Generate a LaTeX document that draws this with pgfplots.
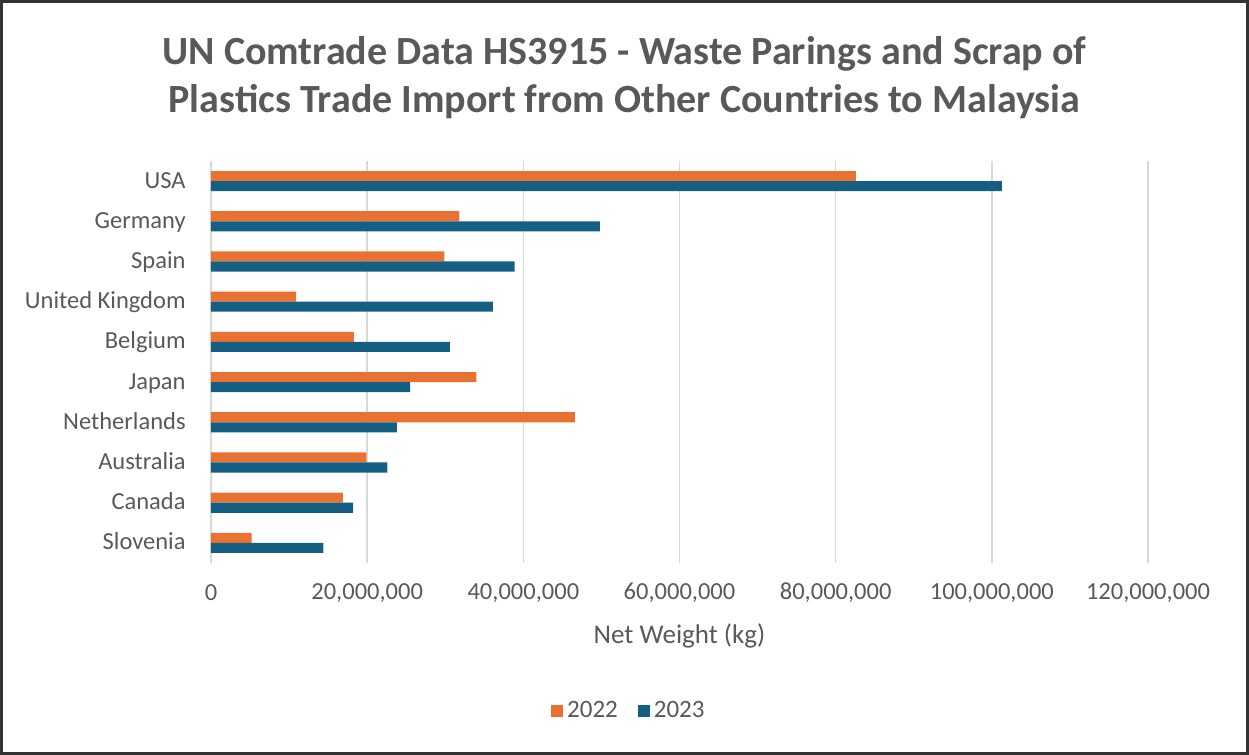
\documentclass[border=0pt]{standalone}
\usepackage{pgfplots}
\pgfplotsset{compat=1.18}
\usepackage{fontspec}
\setmainfont{Carlito}
\definecolor{c22}{HTML}{E97132}
\definecolor{c23}{HTML}{156082}
\definecolor{txt}{HTML}{595959}
\definecolor{gridc}{HTML}{D9D9D9}

\begin{document}
\begin{tikzpicture}[x=0.5pt,y=0.5pt]
\useasboundingbox (0,0) rectangle (1249,755);
\draw[line width=1.5pt, black!80] (1.5,1.5) rectangle (1247.5,753.5);

\node[txt, font=\bfseries\fontsize{20}{24}\selectfont, align=center]
  at (624.5,677) {UN Comtrade Data HS3915 - Waste Parings and Scrap of\\Plastics Trade Import from Other Countries to Malaysia};

\begin{axis}[
  at={(105.5pt,96pt)}, anchor=south west,
  scale only axis, width=468.5pt, height=201pt,
  xbar, bar width=0.25,
  y dir=reverse,
  xmin=0, xmax=120000000,
  ymin=-0.5, ymax=9.5,
  xtick={0,20000000,40000000,60000000,80000000,100000000,120000000},
  scaled x ticks=false,
  xticklabel={\pgfmathprintnumber[fixed,precision=0,1000 sep={,},assume math mode=true]{\tick}},
  ytick={0,...,9},
  yticklabels={USA,Germany,Spain,United Kingdom,Belgium,Japan,Netherlands,Australia,Canada,Slovenia},
  xmajorgrids, grid style={gridc, line width=0.75pt},
  axis line style={draw=none},
  major tick length=0pt,
  tick label style={txt, font=\fontsize{12.25}{14}\selectfont},
  xticklabel style={anchor=center, yshift=-15pt},
  yticklabel style={anchor=base east, inner sep=0pt, xshift=-12.5pt, yshift=-3.5pt},
  xlabel={Net Weight (kg)},
  xlabel style={txt, font=\fontsize{13.5}{16}\selectfont, at={(axis description cs:0.5,-0.1816)}, anchor=center},
  legend columns=2,
  legend style={at={(axis description cs:0.447,-0.368)}, anchor=center, draw=none,
    font=\fontsize{12.5}{14}\selectfont, text=txt,
    /tikz/every even column/.append style={column sep=8pt}},
  legend image code/.code={\fill[#1] (0pt,-3pt) rectangle (6pt,3pt);},
]
\addplot[fill=c22, draw=none, bar shift=-0.125] coordinates {
  (82600000,0) (31800000,1) (29900000,2) (10900000,3) (18300000,4)
  (34000000,5) (46600000,6) (19900000,7) (16900000,8) (5200000,9)};
\addplot[fill=c23, draw=none, bar shift=0.125] coordinates {
  (101300000,0) (49800000,1) (38900000,2) (36100000,3) (30600000,4)
  (25500000,5) (23800000,6) (22600000,7) (18200000,8) (14400000,9)};
\legend{2022,2023}
\end{axis}
\end{tikzpicture}
\end{document}
